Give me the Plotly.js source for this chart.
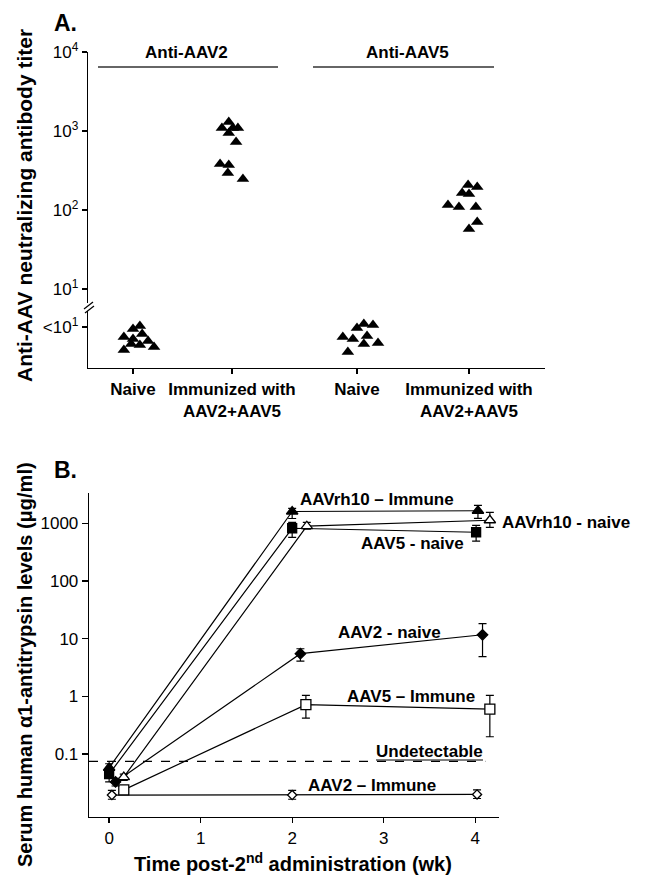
<!DOCTYPE html>
<html><head><meta charset="utf-8">
<script src="https://cdn.plot.ly/plotly-3.0.1.min.js"></script>
<style>html,body{margin:0;padding:0;background:#fff}</style>
</head><body><div id="chart" style="width:647px;height:876px"></div>
<script>
// ---------- Panel A data ----------
const groupNames = ['Naive', 'Immunized with<br>AAV2+AAV5', 'Naive', 'Immunized with<br>AAV2+AAV5'];
const antibodyNames = ['Anti-AAV2', 'Anti-AAV5'];
const titerTickVals = [3.3, 10, 100, 1000, 10000];
const titerTickText = ['<10<sup>1</sup>', '10<sup>1</sup>', '10<sup>2</sup>', '10<sup>3</sup>', '10<sup>4</sup>'];

const aav2NaiveTiter  = [2.47, 3.12, 3.40, 2.33, 2.69, 1.95, 2.20, 1.84, 1.69, 2.01];
const aav2NaiveJitter = [-0.20, 0, 0.15, 0, 0.20, 0.15, 0.33, 0.46, -0.20, -0.04];
const aav2ImmTiter    = [1090, 1300, 1090, 943, 1090, 726, 382, 371, 294, 247];
const aav2ImmJitter   = [-0.22, -0.07, 0.13, -0.07, 0.02, 0.09, -0.26, -0.07, -0.09, 0.24];
const aav5NaiveTiter  = [2.47, 1.59, 2.33, 3.21, 3.61, 3.50, 2.54, 2.01, 2.07];
const aav5NaiveJitter = [-0.31, -0.20, -0.09, 0, 0.15, 0.35, 0.22, 0.15, 0.46];
const aav5ImmTiter    = [207, 196, 164, 159, 116, 109, 109, 70.5, 57.5];
const aav5ImmJitter   = [-0.02, 0.18, -0.15, 0, -0.46, -0.22, 0.15, 0.18, 0];

// ---------- Panel B data ----------
const seriesNames = ['AAVrh10 – Immune', 'AAVrh10 - naive', 'AAV5 - naive', 'AAV2 - naive', 'AAV5 – Immune', 'AAV2 – Immune'];
const weekTicks = [0, 1, 2, 3, 4];
const levelTickVals = [0.1, 1, 10, 100, 1000];
const levelTickText = ['0.1', '1', '10', '100', '1000'];

const rh10ImmWeek = [0, 2, 4.03];
const rh10ImmLevel = [0.058, 1600, 1650];
const rh10ImmErrUp = [0.01, 210, 400];
const rh10ImmErrDn = [0.01, 390, 430];

const rh10NaiveWeek = [0.16, 2.16, 4.16];
const rh10NaiveLevel = [0.04, 890, 1130];
const rh10NaiveErrUp = [0.005, 150, 420];
const rh10NaiveErrDn = [0.005, 100, 280];

const aav5NaiveWeek = [0, 2, 4.01];
const aav5NaiveLevel = [0.045, 820, 700];
const aav5NaiveErrUp = [0.012, 220, 220];
const aav5NaiveErrDn = [0.012, 250, 210];

const aav2NaiveWeek = [0.07, 2.09, 4.08];
const aav2NaiveLevel = [0.033, 5.5, 11.7];
const aav2NaiveErrUp = [0.005, 1.2, 6.5];
const aav2NaiveErrDn = [0.005, 1.4, 6.8];

const aav5ImmWeek = [0.16, 2.15, 4.16];
const aav5ImmLevel = [0.024, 0.72, 0.6];
const aav5ImmErrUp = [0.003, 0.32, 0.44];
const aav5ImmErrDn = [0.003, 0.30, 0.40];

const aav2ImmWeek = [0.03, 2.0, 4.02];
const aav2ImmLevel = [0.0195, 0.0195, 0.020];
const aav2ImmErrUp = [0.004, 0.004, 0.004];
const aav2ImmErrDn = [0.003, 0.003, 0.003];

const undetectableLevel = 0.075;

// ---------- layout helpers ----------
const W = 647, H = 876;
const px = x => x / W, py = y => 1 - y / H;
const FONT = 'Liberation Sans, Arial, Helvetica, sans-serif';
const groupPos = [0.985, 3.15, 5.886, 8.337];

function scatterA(pos, jitter, titer, name) {
  return {
    type: 'scatter', mode: 'markers', name: name, xaxis: 'x', yaxis: 'y',
    x: jitter.map(j => pos + j), y: titer,
    marker: {symbol: 'triangle-up', size: 11, color: 'black'},
    cliponaxis: false
  };
}
function seriesB(name, wk, lvl, up, dn, symbol, filled, size) {
  return {
    type: 'scatter', mode: 'lines+markers', name: name, xaxis: 'x2', yaxis: 'y2',
    x: wk, y: lvl,
    line: {color: 'black', width: 1.2},
    marker: {symbol: symbol, size: size, color: filled ? 'black' : 'white', line: {color: 'black', width: 1.3}},
    error_y: {type: 'data', symmetric: false, array: up, arrayminus: dn, color: 'black', thickness: 1.2, width: 4},
    cliponaxis: false
  };
}

const data = [
  scatterA(groupPos[0], aav2NaiveJitter, aav2NaiveTiter, 'Anti-AAV2 naive'),
  scatterA(groupPos[1], aav2ImmJitter, aav2ImmTiter, 'Anti-AAV2 immunized'),
  scatterA(groupPos[2], aav5NaiveJitter, aav5NaiveTiter, 'Anti-AAV5 naive'),
  scatterA(groupPos[3], aav5ImmJitter, aav5ImmTiter, 'Anti-AAV5 immunized'),
  seriesB(seriesNames[5], aav2ImmWeek, aav2ImmLevel, aav2ImmErrUp, aav2ImmErrDn, 'diamond', false, 7),
  seriesB(seriesNames[4], aav5ImmWeek, aav5ImmLevel, aav5ImmErrUp, aav5ImmErrDn, 'square', false, 10),
  seriesB(seriesNames[3], aav2NaiveWeek, aav2NaiveLevel, aav2NaiveErrUp, aav2NaiveErrDn, 'diamond', true, 8),
  seriesB(seriesNames[2], aav5NaiveWeek, aav5NaiveLevel, aav5NaiveErrUp, aav5NaiveErrDn, 'square', true, 9),
  seriesB(seriesNames[1], rh10NaiveWeek, rh10NaiveLevel, rh10NaiveErrUp, rh10NaiveErrDn, 'triangle-up', false, 10),
  seriesB(seriesNames[0], rh10ImmWeek, rh10ImmLevel, rh10ImmErrUp, rh10ImmErrDn, 'triangle-up', true, 10)
];

const axisCommon = {
  showline: true, linecolor: 'black', linewidth: 1.3, ticks: 'outside', ticklen: 5, tickwidth: 1.3,
  tickcolor: 'black', showgrid: false, zeroline: false, fixedrange: true,
  tickfont: {family: FONT, size: 17, color: 'black'}
};

function ann(text, x, y, size, opts) {
  return Object.assign({
    text: text, xref: 'paper', yref: 'paper', x: px(x), y: py(y), showarrow: false,
    xanchor: 'center', yanchor: 'middle',
    font: {family: FONT, size: size, color: 'black', weight: 'bold'}
  }, opts || {});
}

const annotations = [
  ann('A.', 52, 23, 23, {xanchor: 'left'}),
  ann('B.', 52, 470, 23, {xanchor: 'left'}),
  ann(antibodyNames[0], 187, 53, 17),
  ann(antibodyNames[1], 407, 53, 17),
  ann('Anti-AAV neutralizing antibody titer', 24, 206, 21, {textangle: -90}),
  ann('Serum human α1-antitrypsin levels (μg/ml)', 25, 665, 20, {textangle: -90}),
  ann('Time post-2<sup>nd</sup> administration (wk)', 293, 862, 20),
  ann(seriesNames[0], 377, 499, 17),
  ann(seriesNames[1], 566, 522, 17),
  ann(seriesNames[2], 412, 543, 17),
  ann(seriesNames[3], 389, 632, 17),
  ann(seriesNames[4], 411, 696, 17),
  ann('Undetectable', 429, 751, 17),
  ann(seriesNames[5], 372, 785, 17)
];

const shapes = [
  // bracket lines over groups (panel A)
  {type: 'line', xref: 'paper', yref: 'paper', x0: px(98), x1: px(278), y0: py(67), y1: py(67), line: {color: '#333', width: 1.5}},
  {type: 'line', xref: 'paper', yref: 'paper', x0: px(313), x1: px(494), y0: py(67), y1: py(67), line: {color: '#333', width: 1.5}},
  // axis break on panel A y axis
  {type: 'line', xref: 'paper', yref: 'paper', x0: px(88), x1: px(88), y0: py(303), y1: py(311), line: {color: 'white', width: 4}},
  {type: 'line', xref: 'paper', yref: 'paper', x0: px(84), x1: px(93), y0: py(309), y1: py(302), line: {color: 'black', width: 1.2}},
  {type: 'line', xref: 'paper', yref: 'paper', x0: px(85), x1: px(94), y0: py(313), y1: py(306), line: {color: 'black', width: 1.2}},
  // undetectable threshold (panel B)
  {type: 'line', xref: 'x2', yref: 'y2', x0: -0.22, x1: 4.11, y0: undetectableLevel, y1: undetectableLevel, line: {color: 'black', width: 1.2, dash: 'dash'}},
  {type: 'line', xref: 'paper', yref: 'paper', x0: px(376), x1: px(483), y0: py(760), y1: py(760), line: {color: 'black', width: 1.2}}
];

const layout = {
  width: W, height: H, margin: {l: 0, r: 0, t: 0, b: 0},
  paper_bgcolor: 'white', plot_bgcolor: 'white', showlegend: false,
  font: {family: FONT, color: 'black', size: 17},
  xaxis: Object.assign({}, axisCommon, {
    domain: [px(88), px(545)], range: [0, 10], tickvals: groupPos,
    ticktext: groupNames.map(g => '<b>' + g + '</b>'), anchor: 'y', ticklen: 5
  }),
  yaxis: Object.assign({}, axisCommon, {
    domain: [py(368), py(52)], type: 'log', range: [0, 4],
    tickvals: titerTickVals, ticktext: titerTickText, anchor: 'x', ticklen: 5
  }),
  xaxis2: Object.assign({}, axisCommon, {
    domain: [px(89), px(499)], range: [-0.22, 4.26], tickvals: weekTicks, anchor: 'y2'
  }),
  yaxis2: Object.assign({}, axisCommon, {
    domain: [py(817), py(493)], type: 'log', range: [-2.09, 3.525],
    tickvals: levelTickVals, ticktext: levelTickText, anchor: 'x2', ticklen: 6
  }),
  annotations: annotations,
  shapes: shapes
};

Plotly.newPlot('chart', data, layout, {staticPlot: true, displayModeBar: false});
</script>
</body></html>
